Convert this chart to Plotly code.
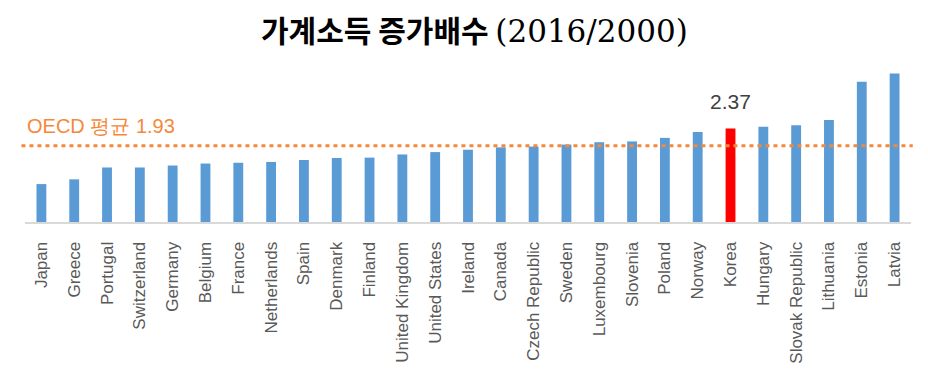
import plotly.graph_objects as go

countries = ["Japan", "Greece", "Portugal", "Switzerland", "Germany", "Belgium", "France",
             "Netherlands", "Spain", "Denmark", "Finland", "United Kingdom", "United States",
             "Ireland", "Canada", "Czech Republic", "Sweden", "Luxembourg", "Slovenia", "Poland",
             "Norway", "Korea", "Hungary", "Slovak Republic", "Lithuania", "Estonia", "Latvia"]
values = [0.96, 1.08, 1.38, 1.38, 1.43, 1.48, 1.50, 1.52, 1.57, 1.62, 1.63, 1.71, 1.77,
          1.83, 1.89, 1.91, 1.96, 2.02, 2.04, 2.13, 2.28, 2.37, 2.41, 2.45, 2.58, 3.55, 3.76]
oecd_avg = 1.93
highlight = "Korea"

title_main = "가계소득 증가배수"
title_period = "(2016/2000)"
oecd_label = "OECD 평균 1.93"

colors = ["#FF0000" if c == highlight else "#5B9BD5" for c in countries]
k_idx = countries.index(highlight)

W, H = 912, 365

fig = go.Figure(go.Bar(x=countries, y=values, marker=dict(color=colors, line=dict(width=0)),
                       width=0.3, hoverinfo="x+y"))

fig.add_shape(type="line", xref="paper", yref="y", x0=-0.004, x1=1.002, y0=oecd_avg, y1=oecd_avg,
              line=dict(color="#F4893B", width=3, dash="4px,4px"), layer="above")

fig.add_annotation(xref="paper", yref="y", x=0.0, y=oecd_avg, xanchor="left", yanchor="bottom",
                   yshift=7, text=oecd_label, showarrow=False,
                   font=dict(family="Liberation Sans, Arial", size=20, color="#F4893B"))
fig.add_annotation(x=countries[k_idx], y=values[k_idx], xanchor="center", yanchor="bottom",
                   yshift=13, text=f"{values[k_idx]:.2f}", showarrow=False,
                   font=dict(family="Liberation Sans, Arial", size=21, color="#404040"))

fig.add_annotation(xref="paper", yref="paper", x=(466 - 17) / (W - 17 - 9), y=1,
                   xanchor="center", yanchor="middle", yshift=56 - 21, showarrow=False,
                   text=(f"<b>{title_main}</b> <span style=\"font-family:'DejaVu Serif';"
                         f"font-size:31px\">{title_period}</span>"),
                   font=dict(family="Noto Sans CJK KR", size=30, color="#000000"))

fig.update_layout(
    width=W, height=H,
    margin=dict(l=17, r=9, t=56, b=149),
    paper_bgcolor="white", plot_bgcolor="white",
    showlegend=False,
    bargap=0.7,
)
fig.update_xaxes(tickangle=-90, showline=True, linecolor="#D9D9D9", linewidth=2,
                 tickfont=dict(family="Liberation Sans, Arial", size=17, color="#595959"),
                 ticks="", ticklabelstandoff=11, showgrid=False)
fig.update_yaxes(range=[0, 4.0], visible=False, showgrid=False, zeroline=False)

fig.write_html("out.html")
